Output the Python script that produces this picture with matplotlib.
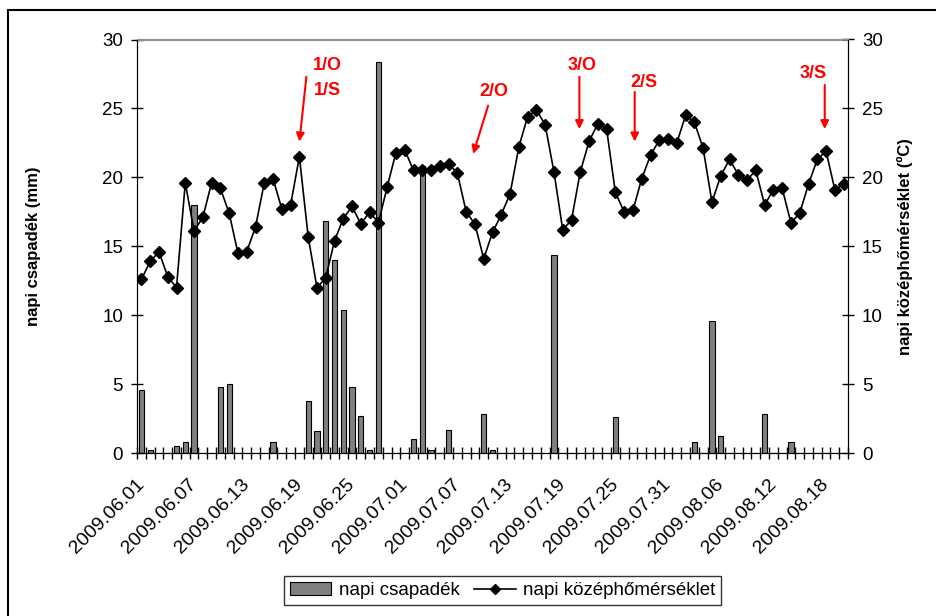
import matplotlib
matplotlib.use("Agg")
import matplotlib.pyplot as plt
import matplotlib.transforms as mtransforms
import numpy as np
import pandas as pd
from matplotlib.patches import Rectangle
from matplotlib.lines import Line2D
from matplotlib.patches import Patch

plt.rcParams['font.family'] = ['Liberation Sans', 'DejaVu Sans']

# napi adatok 2009.06.01 - 2009.08.20
dates = pd.date_range("2009-06-01", "2009-08-20", freq="D")

# napi csapadék (mm)
precip = [4.6, 0.2, 0, 0, 0.5, 0.8, 18.0, 0, 0, 4.8,
          5.0, 0, 0, 0, 0, 0.8, 0, 0, 0, 3.8,
          1.6, 16.8, 14.0, 10.4, 4.8, 2.65, 0.2, 28.4, 0, 0,
          0, 1.0, 20.8, 0.2, 0, 1.7, 0, 0, 0, 2.8,
          0.2, 0, 0, 0, 0, 0, 0, 14.4, 0, 0,
          0, 0, 0, 0, 2.6, 0, 0, 0, 0, 0,
          0, 0, 0, 0.8, 0, 9.6, 1.2, 0, 0, 0,
          0, 2.8, 0, 0, 0.8, 0, 0, 0, 0, 0,
          0]

# napi középhőmérséklet (°C)
temp = [12.6, 13.9, 14.6, 12.8, 12.0, 19.6, 16.1, 17.1, 19.6, 19.2,
        17.4, 14.5, 14.6, 16.4, 19.6, 19.9, 17.7, 18.0, 21.5, 15.7,
        12.0, 12.7, 15.4, 17.0, 17.9, 16.6, 17.5, 16.7, 19.3, 21.8,
        22.0, 20.5, 20.5, 20.5, 20.8, 21.0, 20.3, 17.5, 16.6, 14.1,
        16.0, 17.3, 18.8, 22.2, 24.4, 24.9, 23.8, 20.4, 16.2, 16.9,
        20.4, 22.6, 23.9, 23.5, 18.9, 17.5, 17.6, 19.9, 21.6, 22.7,
        22.8, 22.5, 24.5, 24.0, 22.1, 18.2, 20.1, 21.3, 20.2, 19.8,
        20.5, 18.0, 19.1, 19.2, 16.7, 17.4, 19.5, 21.3, 21.9, 19.1,
        19.5]

tick_labels = ["2009.06.01", "2009.06.07", "2009.06.13", "2009.06.19",
               "2009.06.25", "2009.07.01", "2009.07.07", "2009.07.13",
               "2009.07.19", "2009.07.25", "2009.07.31", "2009.08.06",
               "2009.08.12", "2009.08.18"]

# jelölések: (szöveg, szöveg pozíció, nyíl kezdete, nyíl vége)
marks = [("1/O\n1/S", (21.2, 27.2), (18.8, 27.3), (18.0, 22.6)),
         ("2/O", (40.2, 26.25), (39.5, 25.2), (37.8, 21.7)),
         ("3/O", (50.2, 28.1), (49.9, 27.3), (49.9, 23.5)),
         ("2/S", (57.3, 26.9), (56.2, 26.2), (56.2, 22.6)),
         ("3/S", (76.5, 27.5), (77.85, 26.7), (77.85, 23.5))]

x = np.arange(len(dates))
tick_pos = [list(dates.strftime("%Y.%m.%d")).index(t) for t in tick_labels]

fig = plt.figure(figsize=(9.36, 6.16), dpi=100)
ax = fig.add_axes([137/936, 1-453/616, 711/936, 413.5/616])
ax2 = ax.twinx()

ax.bar(x, precip, width=0.6, color="#808080", edgecolor="black", linewidth=0.8)
ax2.plot(x, temp, color="black", lw=1.2, marker="D", markersize=6)

for a in (ax, ax2):
    a.set_ylim(0, 30)
    a.set_yticks(range(0, 31, 5))
    a.set_xlim(-0.5, len(dates) - 0.5)
    a.spines["top"].set_color("#909090")

ax.tick_params(axis="y", labelsize=13.5, direction="inout", length=8, width=1, pad=6)
ax2.tick_params(axis="y", labelsize=13.5, direction="inout", length=8, width=1, pad=6)

ax.set_xticks(tick_pos)
ax.set_xticklabels(tick_labels, rotation=45, ha="right", va="center",
                   rotation_mode="anchor", fontsize=14)
shift = mtransforms.ScaledTranslation(-5/100, 0, fig.dpi_scale_trans)
for lab in ax.get_xticklabels():
    lab.set_transform(lab.get_transform() + shift)
ax.set_xticks(np.arange(-0.5, len(dates), 1), minor=True)
ax.tick_params(axis="x", which="major", length=0, pad=21)
ax.tick_params(axis="x", which="minor", direction="inout", length=8, width=1)

ax.set_ylabel("napi csapadék (mm)", fontsize=12, fontweight="bold", va="center")
ax.yaxis.set_label_coords(-0.146, 0.5)
ax2.set_ylabel("napi középhőmérséklet (ºC)", fontsize=12, fontweight="bold", va="center")
ax2.yaxis.set_label_coords(1.080, 0.5)

for txt, tpos, start, end in marks:
    ax2.annotate("", xy=end, xytext=start,
                 arrowprops=dict(arrowstyle="-|>", color="red", lw=1.5,
                                 mutation_scale=12, shrinkA=0, shrinkB=0))
    ax2.text(tpos[0], tpos[1], txt, color="red", fontsize=13, fontweight="bold",
             ha="center", va="center", linespacing=1.6)

handles = [Patch(facecolor="#808080", edgecolor="black", linewidth=0.8),
           Line2D([], [], color="black", marker="D", markersize=5, lw=1.2)]
fig.legend(handles, ["napi csapadék", "napi középhőmérséklet"], ncol=2,
           loc="lower center", bbox_to_anchor=(0.537, 0.003), fontsize=13.5,
           frameon=True, fancybox=False, edgecolor="black", borderpad=0.3,
           handlelength=2.2, columnspacing=0.8, handletextpad=0.4)

fig.add_artist(Rectangle((8/936, -0.1), 1.2, 1.1 - 10/616, fill=False,
                         edgecolor="black", lw=1.5, transform=fig.transFigure))

fig.savefig("out.png", dpi=100)
